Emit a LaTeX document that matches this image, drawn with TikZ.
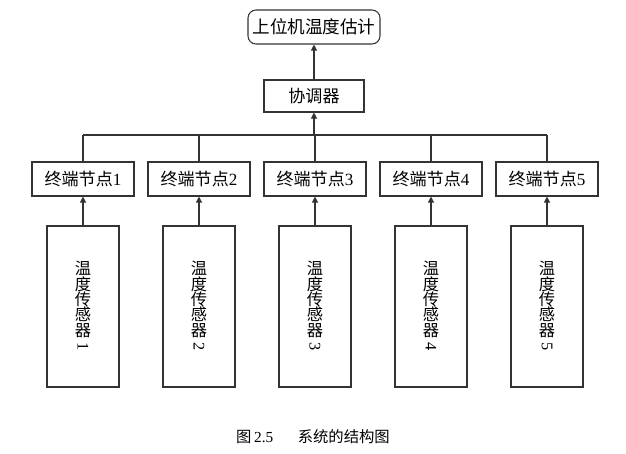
\documentclass[tikz,border=0pt]{standalone}
\usepackage{fontspec}
\setmainfont{Liberation Serif}
\newfontfamily\cjk{Noto Sans CJK SC}
\usetikzlibrary{positioning, arrows.meta}
\definecolor{edge}{HTML}{333333}

\tikzset{
  box/.style={draw=edge, line width=0.8pt, fill=white, inner sep=0pt},
  uparrow/.style={draw=edge, line width=0.8pt, -{Triangle[width=4.5pt,length=4.5pt]}},
  wire/.style={draw=edge, line width=0.8pt}
}

\begin{document}
\begin{tikzpicture}[x=0.75pt, y=-0.75pt]
        \useasboundingbox (0,0) rectangle (626,454);
        % upper levels
        \node[box, rounded corners=6pt, minimum width=132*0.75pt, minimum height=34*0.75pt,
              font=\cjk\fontsize{13.2}{15}\selectfont] (host) at (314,27) {上位机温度估计};
        \node[box, minimum width=100*0.75pt, minimum height=32*0.75pt,
              font=\cjk\fontsize{12.8}{15}\selectfont] (coord) at (314,96) {协调器};
        \coordinate (busc) at (314,135);
        \draw[uparrow] (coord) -- (host);
        \draw[uparrow] (busc) -- (coord);
        % terminal nodes and sensors
        \foreach \i/\x in {1/83, 2/199, 3/315, 4/431, 5/547} {
          \node[box, minimum width=102*0.75pt, minimum height=34*0.75pt,
                font=\fontsize{12.8}{15}\selectfont] (node\i) at (\x,179) {{\cjk 终端节点}\i};
          \node[box, minimum width=72*0.75pt, minimum height=161*0.75pt, align=center,
                font=\cjk\fontsize{12.2}{11.6}\selectfont] (sensor\i) at (\x,306.5)
                {温\\度\\传\\感\\器\\\rotatebox[origin=c]{-90}{\rmfamily\i}};
          \coordinate (bus\i) at (\x,135);
          \draw[wire] (bus\i) -- (node\i);
          \draw[uparrow] (sensor\i) -- (node\i);
        }
        \draw[wire] (bus1) -- (bus5);
        % caption
        \node[font=\fontsize{11.5}{13}\selectfont] (caption) at (313,437)
             {{\cjk 图}\,2.5\hspace{1.6em}{\cjk 系统的结构图}};
      \end{tikzpicture}
\end{document}
